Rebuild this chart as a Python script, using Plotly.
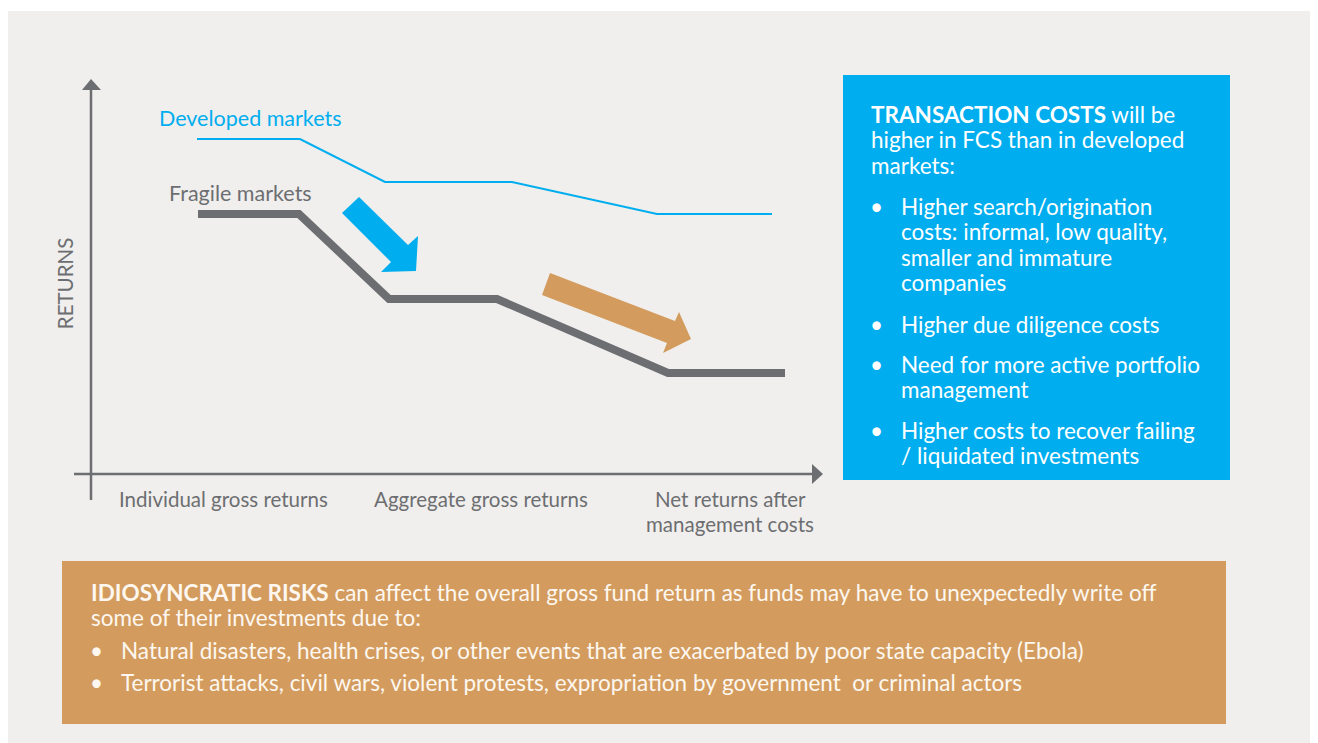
import plotly.graph_objects as go

# Chart values, measured in pixel units from the axis origin (x right, y up)
stage_labels = ["Individual gross returns", "Aggregate gross returns", "Net returns after<br>management costs"]
stage_label_x = [132, 390, 639]

developed_x = [106, 209, 294, 421, 566, 681]
developed_returns = [335, 335, 292, 292, 260, 260]
fragile_x = [107, 208, 298, 406, 577, 694]
fragile_returns = [260, 260, 175, 175, 101, 101]

transaction_intro = ["<b>TRANSACTION COSTS</b> will be", "higher in FCS than in developed", "markets:"]
transaction_bullets = [
    ["Higher search/origination", "costs: informal, low quality,", "smaller and immature", "companies"],
    ["Higher due diligence costs"],
    ["Need for more active portfolio", "management"],
    ["Higher costs to recover failing", "/ liquidated investments"],
]
risk_intro = [
    "<b>IDIOSYNCRATIC RISKS</b> can affect the overall gross fund return as funds may have to "
    "unexpectedly write off",
    "some of their investments due to:",
]
risk_bullets = [
    ["Natural disasters, health crises, or other events that are exacerbated by poor state capacity (Ebola)"],
    ["Terrorist attacks, civil wars, violent protests, expropriation by government  or criminal actors"],
]

W, H = 1318, 743
PAGE = 8          # the html body margin shifts the figure by this much
OX, OY = 91, 474  # axis origin in page pixels
BLUE = "#00aeef"
GREY = "#6d6e71"
TAN = "#d39c5e"
PANEL = "#f0efed"
CREAM = "#fdf7f0"
FONT = "Lato"


def px(x):
    return x - OX


def py(y):
    return OY - y


def path(points):
    return "M " + " L ".join(f"{px(x)},{py(y)}" for x, y in points) + " Z"


fig = go.Figure()
fig.add_trace(go.Scatter(x=developed_x, y=developed_returns, mode="lines",
                         line=dict(color=BLUE, width=2.2), hoverinfo="skip"))
fig.add_trace(go.Scatter(x=fragile_x, y=fragile_returns, mode="lines",
                         line=dict(color=GREY, width=8), hoverinfo="skip"))

shapes = [
    dict(type="rect", xref="x", yref="y", x0=px(7), x1=px(W + 5), y0=py(11), y1=py(H + 5),
         fillcolor=PANEL, line_width=0, layer="below"),
    dict(type="rect", xref="x", yref="y", x0=px(843), x1=px(1230), y0=py(75), y1=py(480),
         fillcolor=BLUE, line_width=0, layer="below"),
    dict(type="rect", xref="x", yref="y", x0=px(62), x1=px(1226), y0=py(561), y1=py(724),
         fillcolor=TAN, line_width=0, layer="below"),
    # axes
    dict(type="line", xref="x", yref="y", x0=0, x1=0, y0=py(500), y1=py(88),
         line=dict(color=GREY, width=2.5)),
    dict(type="line", xref="x", yref="y", x0=px(74), x1=px(813), y0=0, y1=0,
         line=dict(color=GREY, width=2.5)),
    dict(type="path", xref="x", yref="y", path=path([(82, 90), (91, 79), (101, 90)]),
         fillcolor=GREY, line_width=0),
    dict(type="path", xref="x", yref="y", path=path([(812, 464), (823, 474), (812, 484)]),
         fillcolor=GREY, line_width=0),
    # direction arrows
    dict(type="path", xref="x", yref="y",
         path=path([(342, 213), (359, 197), (408, 245), (418, 236), (416, 271), (381, 272), (391, 262)]),
         fillcolor=BLUE, line_width=0),
    dict(type="path", xref="x", yref="y",
         path=path([(542, 295), (550, 273), (675, 321), (679, 312), (691, 339), (663, 353), (667, 343)]),
         fillcolor=TAN, line_width=0),
]

annotations = []


def note(text, x, baseline, color, size=20.5, anchor="left", **kw):
    annotations.append(dict(text=text, x=px(x), y=py(baseline - 0.35 * size), xref="x", yref="y",
                            showarrow=False, xanchor=anchor, yanchor="middle", align=anchor,
                            borderpad=0, font=dict(family=FONT, size=size, color=color), **kw))


def block(lines, x, baselines, color, size, bullet_x=None):
    for line, b in zip(lines, baselines):
        note(line, x, b, color, size)
    if bullet_x is not None:
        note("•", bullet_x, baselines[0], color, size, anchor="center")


note("Developed markets", 158, 126, BLUE, 21.5)
note("Fragile markets", 168, 201, GREY, 21.5)
note("RETURNS", 58 + 0.35 * 20.5, 284 + 0.35 * 20.5, GREY, anchor="center", textangle=-90)
for label, lx in zip(stage_labels, stage_label_x):
    for i, part in enumerate(label.split("<br>")):
        note(part, lx + OX, 506 + i * 25, GREY, anchor="center")

# transaction costs box
box_size = 22.5
block(transaction_intro, 870, [122, 147.5, 173], "white", box_size)
bullet_baselines = [[214, 239.5, 265, 290.5], [332], [372, 397.5], [438, 463.5]]
for lines, bls in zip(transaction_bullets, bullet_baselines):
    block(lines, 900, bls, "white", box_size, bullet_x=876)

# idiosyncratic risk box
block(risk_intro, 90, [600, 625.5], CREAM, box_size)
for lines, bls in zip(risk_bullets, [[658], [690]]):
    block(lines, 120, bls, CREAM, box_size, bullet_x=96)

fig.update_layout(
    width=W - PAGE, height=H - PAGE, margin=dict(l=0, r=0, t=0, b=0),
    paper_bgcolor="white", plot_bgcolor="rgba(0,0,0,0)",
    showlegend=False, shapes=shapes, annotations=annotations,
    xaxis=dict(range=[px(PAGE), px(W)], domain=[0, 1], visible=False, fixedrange=True),
    yaxis=dict(range=[py(H), py(PAGE)], domain=[0, 1], visible=False, fixedrange=True),
)

fig.write_html("out.html")
